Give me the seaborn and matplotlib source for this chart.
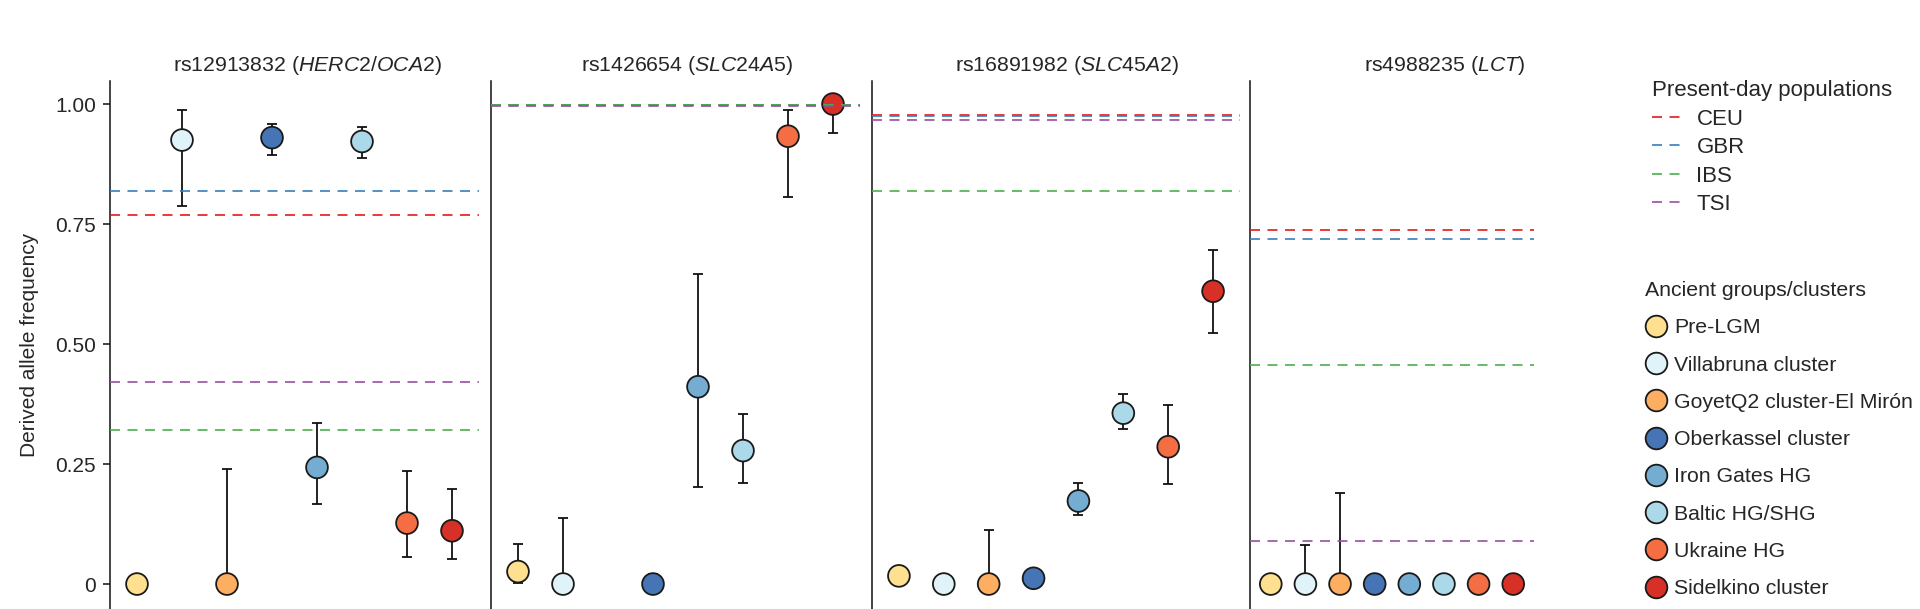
import numpy as np
import pandas as pd
import matplotlib
matplotlib.use("Agg")
import matplotlib.pyplot as plt
import seaborn as sns
from matplotlib.lines import Line2D

# ── Data
groups = ["Pre-LGM", "Villabruna cluster", "GoyetQ2 cluster-El Mirón",
          "Oberkassel cluster", "Iron Gates HG", "Baltic HG/SHG",
          "Ukraine HG", "Sidelkino cluster"]
group_colors = ["#FEE090", "#E0F3F8", "#FDAE61", "#4575B4",
                "#74ADD1", "#ABD9E9", "#F46D43", "#D73027"]

snps  = ["rs12913832", "rs1426654", "rs16891982", "rs4988235"]
genes = ["HERC2/OCA2", "SLC24A5", "SLC45A2", "LCT"]

# ancient allele frequency, lower and upper bound per SNP
freq_herc2 = [0.0, 0.925, 0.0, 0.930, 0.243, 0.922, 0.127, 0.111]
lo_herc2   = [0.0, 0.788, 0.0, 0.894, 0.167, 0.888, 0.057, 0.053]
hi_herc2   = [0.0, 0.987, 0.239, 0.959, 0.335, 0.952, 0.235, 0.197]

freq_slc24 = [0.026, 0.0, np.nan, 0.0, 0.411, 0.278, 0.933, 1.0]
lo_slc24   = [0.003, 0.0, np.nan, 0.0, 0.202, 0.211, 0.807, 0.939]
hi_slc24   = [0.083, 0.137, np.nan, 0.020, 0.646, 0.354, 0.988, 1.0]

freq_slc45 = [0.017, 0.0, 0.0, 0.012, 0.173, 0.356, 0.286, 0.610]
lo_slc45   = [0.005, 0.0, 0.0, 0.012, 0.144, 0.322, 0.209, 0.522]
hi_slc45   = [0.038, 0.0, 0.112, 0.012, 0.211, 0.395, 0.373, 0.695]

freq_lct = [0.0, 0.0, 0.0, 0.0, 0.0, 0.0, 0.0, 0.0]
lo_lct   = [0.0, 0.0, 0.0, 0.0, 0.0, 0.0, 0.0, 0.0]
hi_lct   = [0.0, 0.082, 0.190, 0.0, 0.0, 0.0, 0.012, 0.015]

# present-day population frequencies
pops       = ["CEU", "GBR", "IBS", "TSI"]
pop_colors = ["#E41A1C", "#377EB8", "#4DAF4A", "#984EA3"]
ceu = [0.768, 0.997, 0.978, 0.737]
gbr = [0.819, 0.997, 0.975, 0.719]
ibs = [0.321, 0.999, 0.819, 0.457]
tsi = [0.420, 0.995, 0.967, 0.089]

freqs = [freq_herc2, freq_slc24, freq_slc45, freq_lct]
los   = [lo_herc2, lo_slc24, lo_slc45, lo_lct]
his   = [hi_herc2, hi_slc24, hi_slc45, hi_lct]
pop_vals = [ceu, gbr, ibs, tsi]

# ── Style
sns.set_theme(style="white")
plt.rcParams["font.family"] = ["Liberation Sans", "DejaVu Sans"]
plt.rcParams["mathtext.fontset"] = "custom"
plt.rcParams["mathtext.rm"] = "Liberation Sans"
plt.rcParams["mathtext.it"] = "Liberation Sans:italic"
plt.rcParams["mathtext.bf"] = "Liberation Sans:bold"

W, H = 1920, 609
fig = plt.figure(figsize=(W / 100, H / 100), dpi=100)

# panel pixel extents (left, right); top of axes at 81 px, bottom at figure edge
extents = [(110, 479), (491, 860), (872, 1240), (1250, 1534)]
title_x = [307, 687, 1067, 1445]
top_px = 81
palette = dict(zip(groups, group_colors))
dash = (0, (6, 4.5))

axes = []
for i, (l, r) in enumerate(extents):
    ax = fig.add_axes([l / W, 0, (r - l) / W, (H - top_px) / H])
    axes.append(ax)

    df = pd.DataFrame({"pos": np.arange(len(groups)), "group": groups,
                       "freq": freqs[i], "lo": los[i], "hi": his[i]})
    d = df[df["freq"].notna()]
    ax.errorbar(d["pos"], d["freq"],
                yerr=[d["freq"] - d["lo"], d["hi"] - d["freq"]],
                fmt="none", ecolor="#111111", elinewidth=1.3,
                capsize=3.6, capthick=1.3, zorder=2)
    sns.scatterplot(data=d, x="pos", y="freq", hue="group",
                    hue_order=groups, palette=palette, s=245,
                    edgecolor="#1a1a1a", linewidth=1.3, legend=False,
                    ax=ax, zorder=3)

    for p, c, vals in zip(pops, pop_colors, pop_vals):
        ax.axhline(vals[i], color=c, lw=1.2, ls=dash, zorder=4)

    ax.set_xlim(-0.6, 7.6)
    ax.set_ylim(-0.052, 1.048)
    ax.set_xlabel("")
    ax.set_ylabel("")
    ax.set_xticks([])
    for s in ["top", "right", "bottom"]:
        ax.spines[s].set_visible(False)
    ax.spines["left"].set_color("#111111")
    ax.spines["left"].set_linewidth(1.1)
    ax.set_title(f"{snps[i]} ($\\mathit{{{genes[i]}}}$)", fontsize=15.3,
                 pad=7, x=(title_x[i] - l) / (r - l))

    if i == 0:
        ax.set_yticks([0, 0.25, 0.5, 0.75, 1.0])
        ax.set_yticklabels(["0", "0.25", "0.50", "0.75", "1.00"])
        ax.tick_params(axis="y", left=True, length=5, width=1.1,
                       color="#111111", labelsize=15, pad=5)
        ax.set_ylabel("Derived allele frequency", fontsize=15, labelpad=12)
    else:
        ax.set_yticks([])

# ── Legends
pop_handles = [Line2D([0], [0], color=c, lw=1.2, ls=dash) for c in pop_colors]
leg1 = fig.legend(pop_handles, pops, title="Present-day populations",
                  loc="upper left", bbox_to_anchor=(1652 / W, 1 - 80 / H),
                  frameon=False, alignment="left", fontsize=16,
                  title_fontsize=16, handlelength=1.3, handletextpad=0.7,
                  labelspacing=0.34, borderpad=0, borderaxespad=0)

grp_handles = [Line2D([0], [0], marker="o", ls="none", markersize=15.6,
                      markerfacecolor=c, markeredgecolor="#1a1a1a",
                      markeredgewidth=1.3) for c in group_colors]
leg2 = fig.legend(grp_handles, groups, title="Ancient groups/clusters",
                  loc="upper left", bbox_to_anchor=(1645 / W, 1 - 281 / H),
                  frameon=False, alignment="left", fontsize=15.3,
                  title_fontsize=15.3, handlelength=1.0, handletextpad=0.36,
                  labelspacing=0.86, borderpad=0, borderaxespad=0)

fig.savefig("out.png", dpi=100)
